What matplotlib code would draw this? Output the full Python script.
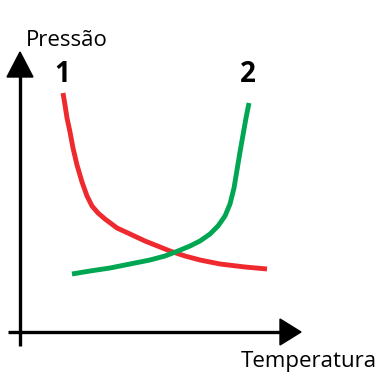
import matplotlib
matplotlib.use("Agg")
import matplotlib.pyplot as plt
from matplotlib.patches import Polygon

# curve points (pixel-like coordinates, y grows downward)
red_x = [63, 65, 67, 70, 73, 77, 82, 87, 92, 98, 105, 117, 130, 145, 160, 170, 185, 200, 220, 245, 267]
red_y = [93, 105, 118, 132, 148, 165, 182, 196, 206, 213, 219, 228, 234, 241, 247, 251, 256, 260, 264, 267, 269]
green_x = [72, 90, 110, 130, 150, 165, 178, 190, 200, 210, 218, 225, 230, 234, 237, 240, 243, 246, 249]
green_y = [274, 271, 268, 264, 260, 256, 251, 246, 241, 234, 226, 216, 204, 188, 170, 152, 135, 118, 103]
labels = ["1", "2"]
label_x = [62, 248]
label_y = [75, 75]
x_title = "Temperatura"
y_title = "Pressão"

fig = plt.figure(figsize=(3.9, 3.9), dpi=100)
ax = fig.add_axes([0, 0, 1, 1])
ax.set_xlim(0, 390)
ax.set_ylim(390, 0)
ax.axis("off")

lw = 3.5
# axes lines
ax.plot([20, 20], [346, 72], color="black", lw=2.4, solid_capstyle="butt")
ax.plot([8, 282], [332, 332], color="black", lw=2.4, solid_capstyle="butt")
ax.add_patch(Polygon([[7, 77], [33, 77], [20, 52]], closed=True, color="black"))
ax.add_patch(Polygon([[280, 319], [280, 345], [301, 332]], closed=True, color="black"))

ax.plot(red_x, red_y, color="#ee2a2e", lw=lw, solid_capstyle="butt", solid_joinstyle="round")
ax.plot(green_x, green_y, color="#00a651", lw=lw, solid_capstyle="butt", solid_joinstyle="round")

for t, x, y in zip(labels, label_x, label_y):
    ax.text(x, y, t, fontsize=20, fontweight="bold", ha="center", va="center",
            family="Open Sans")
ax.text(26, 40, y_title, fontsize=16, ha="left", va="center", family="Open Sans")
ax.text(377, 362, x_title, fontsize=16, ha="right", va="center", family="Open Sans")

fig.savefig("out.png", dpi=100)
